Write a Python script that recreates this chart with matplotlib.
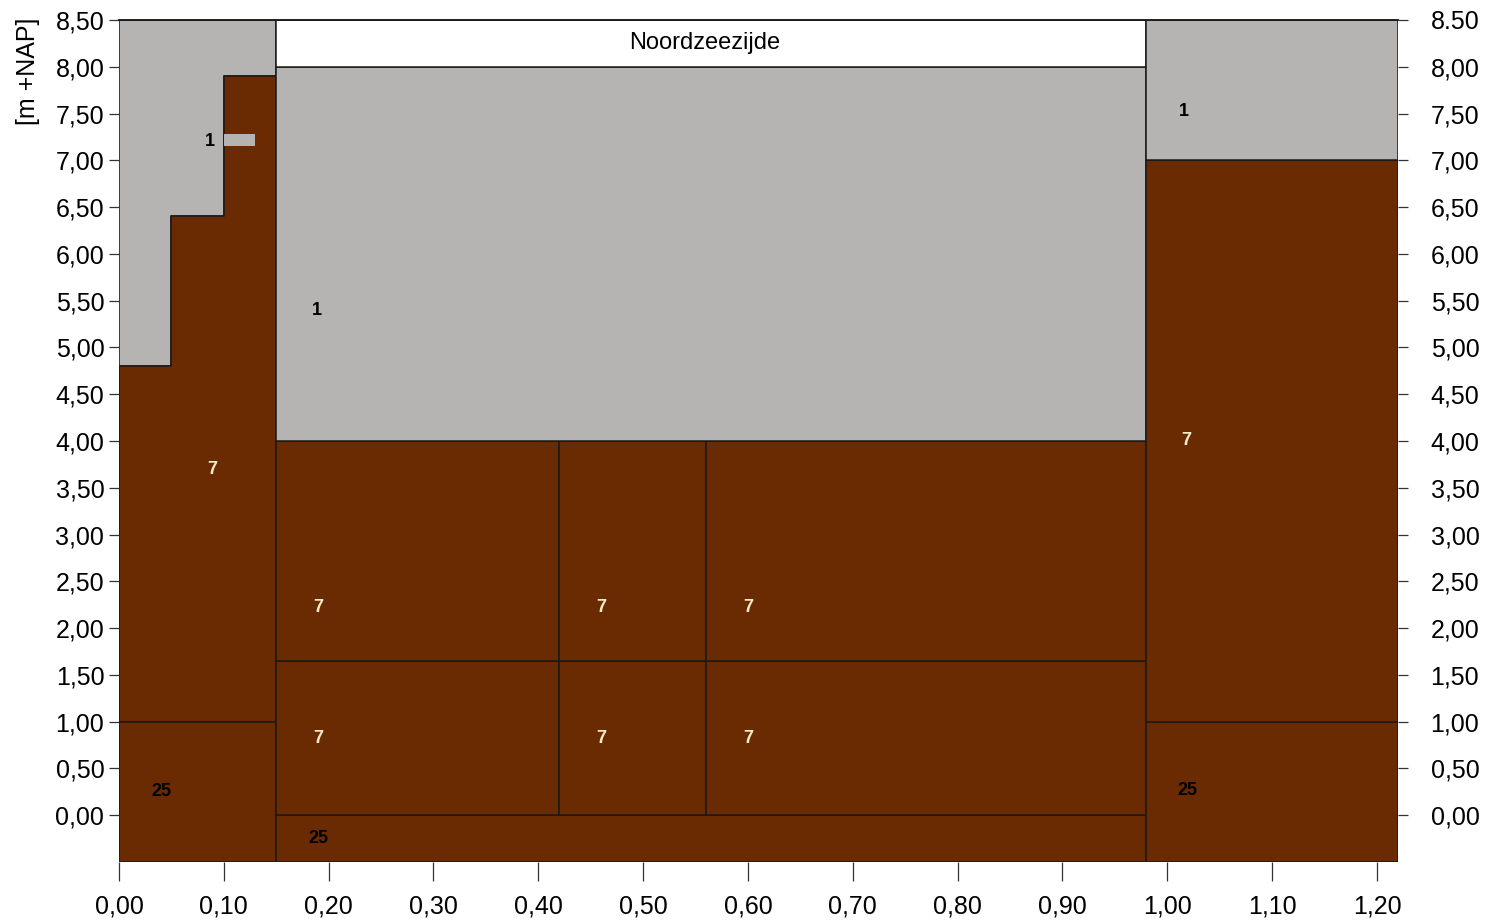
#!/usr/bin/env python3
"""
Soil profile cross-section (Noordzeezijde) with layer codes.
"""

import matplotlib.pyplot as plt
import matplotlib.transforms as mtransforms
from matplotlib.patches import Rectangle


plt.rcParams["font.family"] = ["Liberation Sans", "DejaVu Sans"]
plt.rcParams["font.size"] = 18

# staircase of the left column (code 7 top) and its underlying code 25 layer
left_x = [0.00, 0.05, 0.10, 0.15]
left_top = [4.80, 6.40, 7.90]
left_25_top = 1.00

# rectangular blocks: x0, x1, bottom, top, soil code
rect_x0 = [0.00, 0.15, 0.15, 0.42, 0.56, 0.15, 0.42, 0.56, 0.15, 0.15, 0.98, 0.98, 0.98]
rect_x1 = [0.15, 0.98, 0.42, 0.56, 0.98, 0.42, 0.56, 0.98, 0.98, 0.98, 1.22, 1.22, 1.22]
rect_y0 = [-0.50, -0.50, 0.00, 0.00, 0.00, 1.65, 1.65, 1.65, 4.00, 8.00, -0.50, 1.00, 7.00]
rect_y1 = [1.00, 0.00, 1.65, 1.65, 1.65, 4.00, 4.00, 4.00, 8.00, 8.50, 1.00, 7.00, 8.50]
rect_code = ["25", "25", "7", "7", "7", "7", "7", "7", "1", "", "25", "7", "1"]

# small patch of code 1 cut into the left column
notch_x = [0.10, 0.13]
notch_y = [7.15, 7.28]

# layer labels
label_x = [0.087, 0.089, 0.040, 0.189, 0.190, 0.460, 0.600, 0.190, 0.460, 0.600, 0.190, 1.016, 1.018, 1.019]
label_y = [7.20, 3.70, 0.25, 5.40, 2.22, 2.22, 2.22, 0.82, 0.82, 0.82, -0.25, 7.52, 4.01, 0.26]
label_text = ["1", "7", "25", "1", "7", "7", "7", "7", "7", "7", "25", "1", "7", "25"]

yticks = [i * 0.5 for i in range(18)]
xticks = [i * 0.1 for i in range(13)]

BROWN = "#6B2B02"
GREY = "#B6B4B2"
EDGE = "#1a1a1a"
code_colors = {"1": GREY, "7": BROWN, "25": BROWN, "": "white"}
label_colors = {"1": "black", "7": "#F3ECCB", "25": "black"}


def main():
    fig = plt.figure(figsize=(14.85, 9.21), dpi=100)
    ax = fig.add_axes([0.0801, 0.0641, 0.8613, 0.9142])
    ax.set_xlim(0, 1.22)
    ax.set_ylim(-0.5, 8.5)

    # left column: grey above the staircase, brown below it
    xs = left_x
    tops = left_top + [left_top[-1]]
    ax.fill_between(xs, tops, 8.5, step="post", facecolor=GREY,
                    edgecolor=EDGE, linewidth=1.1, zorder=1)
    ax.fill_between(xs, left_25_top, tops, step="post", facecolor=BROWN,
                    edgecolor=EDGE, linewidth=1.1, zorder=2)

    for x0, x1, y0, y1, c in zip(rect_x0, rect_x1, rect_y0, rect_y1, rect_code):
        ax.add_patch(Rectangle((x0, y0), x1 - x0, y1 - y0, facecolor=code_colors[c],
                               edgecolor=EDGE, linewidth=1.1, zorder=2))

    ax.add_patch(Rectangle((notch_x[0], notch_y[0]), notch_x[1] - notch_x[0],
                           notch_y[1] - notch_y[0], facecolor=GREY,
                           edgecolor="none", zorder=3))

    for x, y, t in zip(label_x, label_y, label_text):
        ax.text(x, y, t, ha="center", va="center", fontsize=13,
                fontweight="bold", color=label_colors[t], zorder=4)

    ax.text(0.559, 8.25, "Noordzeezijde", ha="center", va="center",
            fontsize=17, zorder=4)

    trans = mtransforms.blended_transform_factory(ax.transAxes, ax.transData)
    ax.text(-0.071, 7.95, "[m +NAP]", rotation=90, ha="center", va="center",
            fontsize=18, transform=trans)

    def fmt(v):
        return f"{v:.2f}".replace(".", ",")

    ax.set_xticks(xticks)
    ax.set_xticklabels([fmt(v) for v in xticks])
    ax.set_yticks(yticks)
    ax.set_yticklabels([fmt(v) for v in yticks])
    ax.tick_params(axis="x", direction="out", length=13.5, width=0.9,
                   pad=10, color="#333333", labelsize=18)
    ax.tick_params(axis="y", direction="out", length=7.5, width=0.9,
                   pad=3, color="#333333", labelsize=18)

    ax2 = ax.twinx()
    ax2.set_ylim(ax.get_ylim())
    ax2.set_yticks(yticks)
    right_labels = [fmt(v) for v in yticks]
    right_labels[-1] = "8.50"
    ax2.set_yticklabels(right_labels)
    ax2.tick_params(axis="y", direction="out", length=7.5, width=0.9,
                    pad=16, color="#333333", labelsize=18)

    for a in (ax, ax2):
        for s in a.spines.values():
            s.set_linewidth(1.1)
            s.set_color(EDGE)
        a.spines["left"].set_visible(False)
        a.spines["bottom"].set_visible(False)
        a.spines["right"].set_visible(False)

    fig.savefig("out.png", dpi=100)


if __name__ == "__main__":
    main()
